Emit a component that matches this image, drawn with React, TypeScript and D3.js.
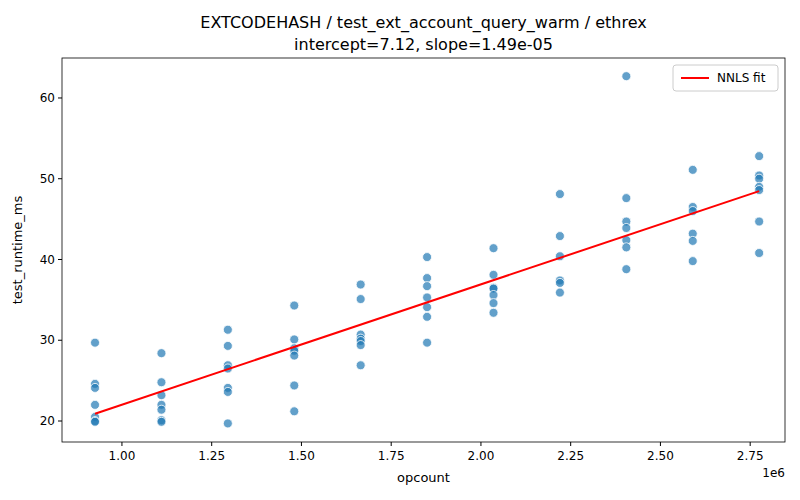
import * as d3 from "d3";

const W = 800, H = 500;
const M = { top: 58, right: 15, bottom: 58, left: 62 };

// opcount columns (x) and runtime samples (ms) per column
const opcounts = [0.925e6, 1.11e6, 1.295e6, 1.48e6, 1.665e6, 1.85e6, 2.035e6, 2.22e6, 2.405e6, 2.59e6, 2.775e6];
const runtimes = [
  [29.7, 24.6, 24.1, 22.0, 20.5, 20.0, 19.9],
  [28.4, 24.8, 23.2, 22.0, 21.4, 20.1, 19.9],
  [31.3, 29.3, 26.9, 26.5, 24.1, 23.6, 19.7],
  [34.3, 30.1, 29.0, 28.7, 28.1, 24.4, 21.2],
  [36.9, 35.1, 30.7, 30.2, 29.9, 29.4, 26.9],
  [40.3, 37.7, 36.7, 35.3, 34.1, 32.9, 29.7],
  [41.4, 38.1, 36.5, 36.4, 35.6, 34.6, 33.4],
  [48.1, 42.9, 40.4, 37.4, 37.1, 35.9],
  [62.7, 47.6, 44.7, 43.9, 42.4, 41.5, 38.8],
  [51.1, 46.5, 46.0, 43.2, 42.3, 39.8],
  [52.8, 50.4, 50.0, 49.0, 48.6, 44.7, 40.8],
];
const intercept = 7.12;
const slope = 1.49e-5;
const xTicks = [1.0, 1.25, 1.5, 1.75, 2.0, 2.25, 2.5, 2.75];
const yTicks = [20, 30, 40, 50, 60];

export default function App() {
  const bw = W - M.left - M.right;
  const bh = H - M.top - M.bottom;
  const x = d3.scaleLinear().domain([0.833e6, 2.847e6]).range([0, bw]);
  const y = d3.scaleLinear().domain([17.4, 64.95]).range([bh, 0]);
  const pts = opcounts.flatMap((o, i) => runtimes[i].map((v) => ({ x: o, y: v })));
  const x0 = d3.min(opcounts)!, x1 = d3.max(opcounts)!;
  const line = d3.line<number>().x((d) => x(d)).y((d) => y(intercept + slope * d))([x0, x1])!;
  const font = "DejaVu Sans, sans-serif";

  return (
    <svg width={W} height={H} style={{ position: "absolute", left: 0, top: 0, fontFamily: font }}>
      <rect width={W} height={H} fill="#fff" />
      <text x={M.left + bw / 2} y={28} textAnchor="middle" fontSize={16}>EXTCODEHASH / test_ext_account_query_warm / ethrex</text>
      <text x={M.left + bw / 2} y={50} textAnchor="middle" fontSize={16}>intercept=7.12, slope=1.49e-05</text>
      <g transform={`translate(${M.left},${M.top})`}>
        {pts.map((p, i) => (
          <circle key={i} cx={x(p.x)} cy={y(p.y)} r={4.5} fill="#1f77b4" fillOpacity={0.7} stroke="#fff" strokeWidth={0.8} />
        ))}
        <path d={line} stroke="red" strokeWidth={2} fill="none" />
        <rect width={bw} height={bh} fill="none" stroke="#000" strokeWidth={0.8} />
        {xTicks.map((t) => (
          <g key={t} transform={`translate(${x(t * 1e6)},${bh})`}>
            <line y2={4} stroke="#000" />
            <text y={18} textAnchor="middle" fontSize={12}>{t.toFixed(2)}</text>
          </g>
        ))}
        {yTicks.map((t) => (
          <g key={t} transform={`translate(0,${y(t)})`}>
            <line x2={-4} stroke="#000" />
            <text x={-7} dy="0.35em" textAnchor="end" fontSize={12}>{t}</text>
          </g>
        ))}
        <text x={bw} y={bh + 35} textAnchor="end" fontSize={12}>1e6</text>
        <text x={bw / 2} y={bh + 40} textAnchor="middle" fontSize={13}>opcount</text>
        <text transform={`translate(-40,${bh / 2}) rotate(-90)`} textAnchor="middle" fontSize={13}>test_runtime_ms</text>
        <g transform={`translate(${bw - 112},7)`}>
          <rect width={105} height={26} rx={3} fill="#fff" fillOpacity={0.8} stroke="#ccc" />
          <line x1={8} x2={36} y1={13} y2={13} stroke="red" strokeWidth={2} />
          <text x={44} y={13} dy="0.35em" fontSize={12}>NNLS fit</text>
        </g>
      </g>
    </svg>
  );
}
